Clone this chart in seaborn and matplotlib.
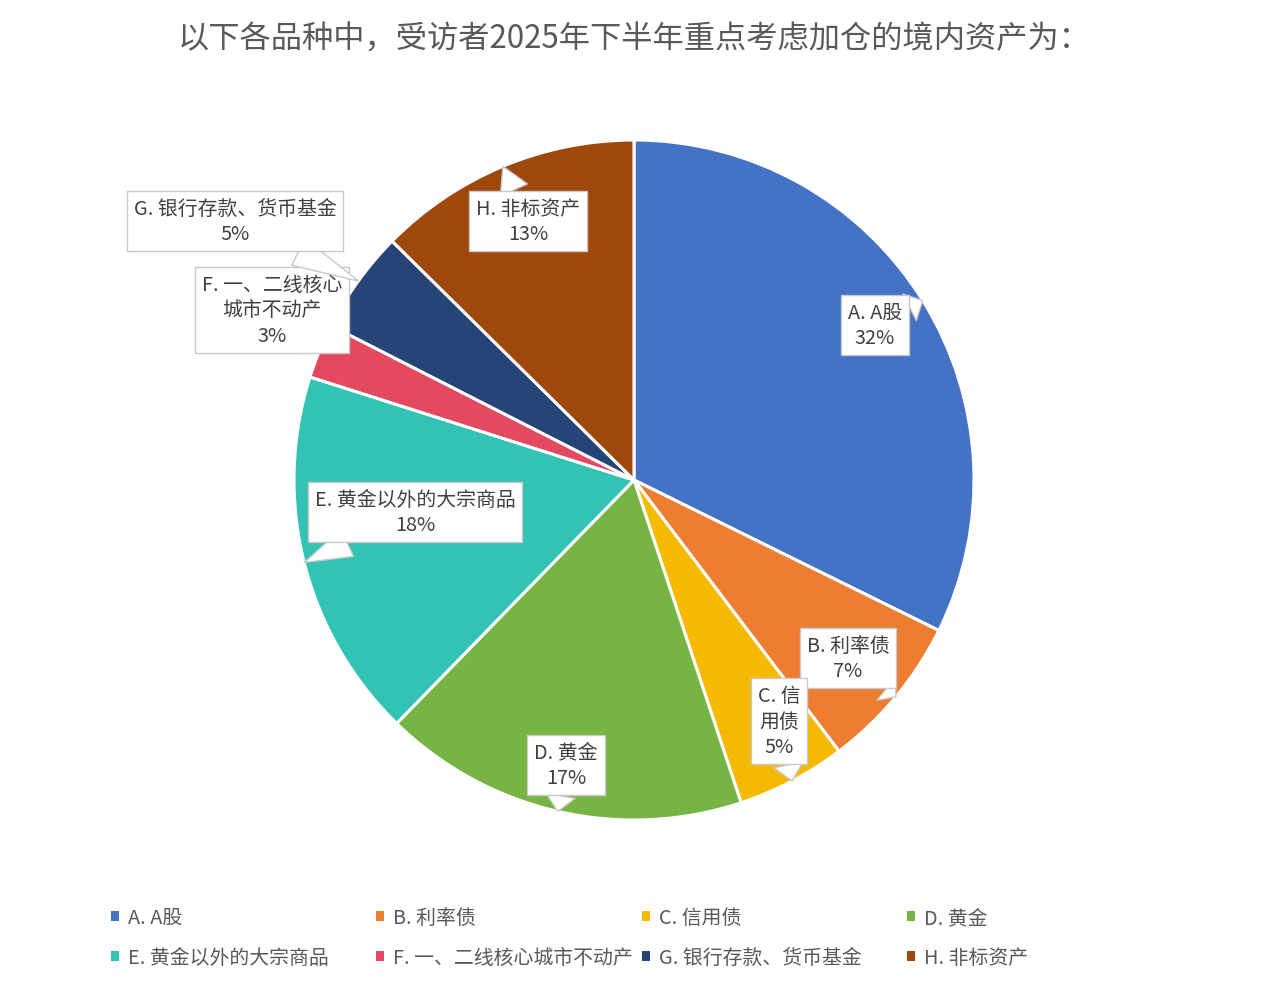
import numpy as np
import seaborn as sns
import matplotlib.pyplot as plt
from matplotlib.patches import Patch

categories = ['A. A股', 'B. 利率债', 'C. 信用债', 'D. 黄金',
              'E. 黄金以外的大宗商品', 'F. 一、二线核心城市不动产',
              'G. 银行存款、货币基金', 'H. 非标资产']
# shares (%); labels show them rounded
shares = [32.3, 7.4, 5.2, 17.4, 17.6, 2.6, 4.9, 12.6]
# label text inside the callouts (line breaks as in the chart)
callout_names = ['A. A股', 'B. 利率债', 'C. 信\n用债', 'D. 黄金',
                 'E. 黄金以外的大宗商品', 'F. 一、二线核心\n城市不动产',
                 'G. 银行存款、货币基金', 'H. 非标资产']
title = '以下各品种中，受访者2025年下半年重点考虑加仓的境内资产为：'

colors = ['#4472C4', '#ED7D31', '#F5BA00', '#76B443',
          '#33C3B4', '#E34A5F', '#264478', '#9E480E']

sns.set_theme(style='white')
plt.rcParams['font.family'] = ['Noto Sans CJK SC', 'DejaVu Sans']

W, H = 1269, 987
fig = plt.figure(figsize=(W / 100, H / 100), dpi=100)
ax = fig.add_axes([0, 0, 1, 1])

cx, cy, r = 634, H - 481, 340
wedges, _ = ax.pie(shares, colors=colors, startangle=90, counterclock=False,
                   center=(cx, cy), radius=r, frame=True,
                   wedgeprops=dict(edgecolor='white', linewidth=2.2))
ax.set_xlim(0, W)
ax.set_ylim(0, H)
ax.axis('off')

# callout box centres (pixels from top-left)
box_pos = [(875, 326), (848, 659), (779, 722), (566, 766),
           (415, 513), (272, 311), (235, 222), (528, 222)]

for w, name, s, (bx, by) in zip(wedges, callout_names, shares, box_pos):
    ang = np.deg2rad((w.theta1 + w.theta2) / 2)
    tip = (cx + r * 1.0 * np.cos(ang), cy + r * 1.0 * np.sin(ang))
    ax.annotate(f'{name}\n{round(s):d}%', xy=tip, xytext=(bx, H - by),
                ha='center', va='center', fontsize=14.3, color='#404040',
                fontweight='light', linespacing=1.3,
                bbox=dict(boxstyle='square,pad=0.35', fc='white', ec='#c8c8c8', lw=1),
                arrowprops=dict(arrowstyle='wedge,tail_width=1.5,shrink_factor=0.5',
                                fc='white', ec='#c8c8c8', lw=1,
                                shrinkA=0, shrinkB=0))

fig.text(634 / W, 1 - 40 / H, title, ha='center', va='center',
         fontsize=22.5, color='#595959', fontweight='light')

handles = [Patch(facecolor=c, edgecolor='none') for c in colors]
col_x = [111, 376, 642, 907]
for i, x in enumerate(col_x):
    fig.legend(handles=[handles[i], handles[i + 4]],
               labels=[categories[i], categories[i + 4]],
               loc='upper left', bbox_to_anchor=(x / W, 1 - 908 / H),
               frameon=False, labelcolor='#595959',
               prop=dict(size=14.3, weight='light'),
               handlelength=0.42, handleheight=0.42, handletextpad=0.45,
               labelspacing=0.95, borderaxespad=0, borderpad=0)

fig.savefig('out.png', dpi=100)
